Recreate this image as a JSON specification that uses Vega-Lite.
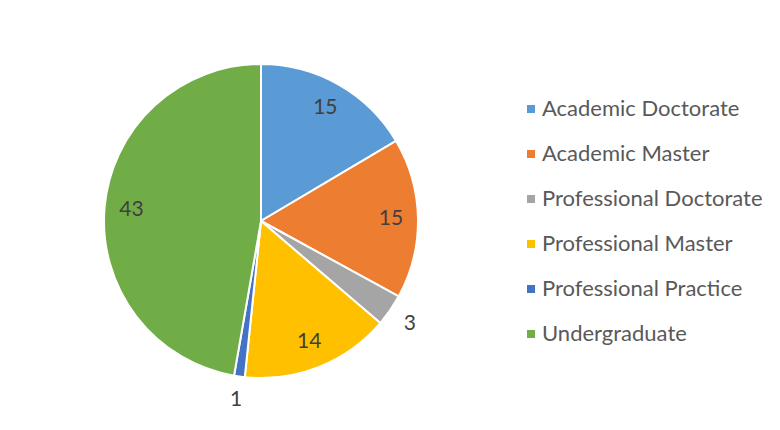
{
  "$schema": "https://vega.github.io/schema/vega-lite/v6.json",
  "width": 522,
  "height": 442,
  "autosize": "none",
  "padding": {"left": 0, "top": 0, "right": 258, "bottom": 0},
  "background": "white",
  "data": {
    "values": [
      {"category": "Academic Doctorate", "count": 15},
      {"category": "Academic Master", "count": 15},
      {"category": "Professional Doctorate", "count": 3},
      {"category": "Professional Master", "count": 14},
      {"category": "Professional Practice", "count": 1},
      {"category": "Undergraduate", "count": 43}
    ]
  },
  "encoding": {
    "theta": {"field": "count", "type": "quantitative", "stack": true},
    "order": {"field": "category", "type": "ordinal", "sort": "ascending"},
    "detail": {"field": "category", "type": "nominal"}
  },
  "layer": [
    {
      "mark": {"type": "arc", "outerRadius": 157, "stroke": "white", "strokeWidth": 2},
      "encoding": {
        "color": {
          "field": "category",
          "type": "nominal",
          "scale": {
            "domain": ["Academic Doctorate", "Academic Master", "Professional Doctorate", "Professional Master", "Professional Practice", "Undergraduate"],
            "range": ["#5B9BD5", "#ED7D31", "#A5A5A5", "#FFC000", "#4472C4", "#70AD47"]
          },
          "legend": {
            "orient": "none",
            "legendX": 520,
            "legendY": 98,
            "title": null,
            "padding": 0,
            "symbolType": "square",
            "symbolSize": 64,
            "symbolStrokeWidth": 0,
            "labelFont": "Lato",
            "labelFontSize": 22,
            "labelColor": "#595959",
            "labelOffset": 0,
            "labelLimit": 0,
            "rowPadding": 23
          }
        }
      }
    },
    {
      "mark": {"type": "text", "radius": 130, "font": "Lato", "fontSize": 21, "color": "#404040", "align": "center", "baseline": "middle"},
      "encoding": {
        "text": {"condition": {"test": "datum.count >= 5", "field": "count", "type": "quantitative"}, "value": ""}
      }
    },
    {
      "mark": {"type": "text", "radius": 181, "font": "Lato", "fontSize": 21, "color": "#404040", "align": "center", "baseline": "middle"},
      "encoding": {
        "text": {"condition": {"test": "datum.count < 5", "field": "count", "type": "quantitative"}, "value": ""}
      }
    }
  ],
  "config": {"view": {"stroke": null}}
}
